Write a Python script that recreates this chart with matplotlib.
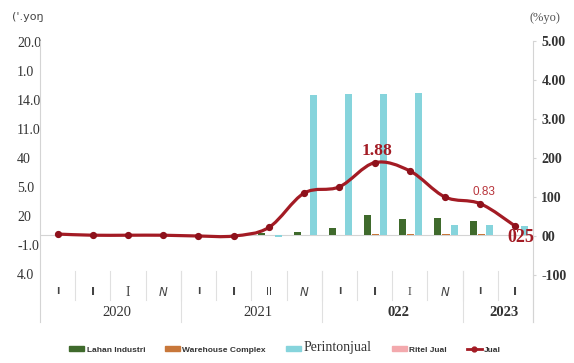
import numpy as np
import matplotlib
matplotlib.use("Agg")
from matplotlib import pyplot as plt
from matplotlib.path import Path
from matplotlib.patches import PathPatch, Patch
from matplotlib.lines import Line2D
import matplotlib.transforms as mtransforms

# quarterly series, 2020 Q1 .. 2023 Q2
quarters = ["I", "I", "I", "N", "I", "I", "II", "N", "I", "I", "I", "N", "I", "I"]
years = ["2020", "2021", "022", "2023"]
year_quarters = [4, 4, 4, 2]

lahan_industri = [0, 0, 0, 0, 0, 0, 0.2, 0.3, 0.7, 2.1, 1.7, 1.8, 1.5, 0]
warehouse = [0, 0, 0, 0, 0, 0, 0, 0, 0, 0.1, 0.15, 0.1, 0.15, 0]
perintonjual = [0, 0, 0, 0, 0, 0, -0.2, 14.5, 14.6, 14.6, 14.7, 1.0, 1.0, 0.95]
ritel_jual = [0] * 14
jual = [0.05, 0.02, 0.02, 0.02, 0.0, 0.0, 0.22, 1.10, 1.26, 1.88, 1.67, 1.00, 0.83, 0.25]

left_ticks = [20, 17, 14, 11, 8, 5, 2, -1, -4]
left_ticklabels = ["20.0", "1.0", "14.0", "11.0", "40", "5.0", "20", "-1.0", "4.0"]
right_ticks = [5, 4, 3, 2, 1, 0, -1]
right_ticklabels = ["5.00", "4.00", "3.00", "200", "100", "00", "-100"]

c_green = "#3f6a2c"
c_orange = "#c8773a"
c_cyan = "#86d4dc"
c_pink = "#f3a9ad"
c_red = "#a31b24"
c_spine = "#d4d4d4"

W, H = 574, 363
fig = plt.figure(figsize=(W / 100, H / 100), dpi=100)
ax = fig.add_axes([40 / W, (H - 322) / H, (533 - 40) / W, (322 - 41) / H])
ax2 = ax.twinx()

x = np.arange(len(quarters))
ax.set_xlim(-0.5, len(quarters) - 0.5)
ax.set_ylim(-9.03, 20.15)
ax2.set_ylim(-2.205, 5.0)

bw = 0.2
ax.bar(x - 0.2, lahan_industri, bw, color=c_green)
ax.bar(x + 0.03, warehouse, bw, color=c_orange)
ax.bar(x + 0.26, perintonjual, bw, color=c_cyan)
ax.bar(x + 0.49, ritel_jual, bw, color=c_pink)
ax.axhline(0, color=c_spine, lw=0.8, zorder=0)

# smoothed line through the quarterly points (cubic Bezier, Catmull-Rom tangents)
pts = np.column_stack([x, jual])
verts = [pts[0]]
codes = [Path.MOVETO]
n = len(pts)
for i in range(n - 1):
    p0, p1, p2, p3 = pts[max(i - 1, 0)], pts[i], pts[i + 1], pts[min(i + 2, n - 1)]
    verts += [p1 + (p2 - p0) / 6, p2 - (p3 - p1) / 6, p2]
    codes += [Path.CURVE4] * 3
ax2.add_patch(PathPatch(Path(verts, codes), fill=False, edgecolor=c_red, lw=2.3,
                        capstyle="round", joinstyle="round"))
ax2.plot(x, jual, "o", color="#8e111b", ms=4.2, ls="none")

ax2.annotate(f"{jual[9]:.2f}", (x[9], jual[9]), xytext=(2, 8.5), textcoords="offset points",
             ha="center", va="center", color=c_red, fontsize=12.5, fontweight="bold",
             family="Liberation Serif")
ax2.annotate(f"{jual[12]:.2f}", (x[12], jual[12]), xytext=(3, 8.5), textcoords="offset points",
             ha="center", va="center", color="#b8343b", fontsize=8.5,
             family="Liberation Sans")
ax2.annotate(f"{jual[13]:.2f}".replace(".", "").lstrip("0").rjust(3, "0"), (x[13], jual[13]),
             xytext=(3.6, -8), textcoords="offset points", ha="center", va="center",
             color=c_red, fontsize=13, fontweight="bold", family="Liberation Serif")

# spines and ticks
for a in (ax, ax2):
    a.spines["top"].set_visible(False)
    a.spines["bottom"].set_visible(False)
    a.spines["left"].set_color(c_spine)
    a.spines["right"].set_color(c_spine)
    a.set_xticks([])
ax2.spines["left"].set_visible(False)
ax.spines["right"].set_visible(False)

ax.set_yticks(left_ticks)
ax.set_yticklabels(left_ticklabels, family="Liberation Serif", fontsize=10, color="#333333",
                   ha="left")
ax.tick_params(axis="y", length=0, pad=16.5)
ax2.set_yticks(right_ticks)
ax2.set_yticklabels(right_ticklabels, family="Liberation Serif", fontsize=10,
                    fontweight="bold", color="#333333")
ax2.tick_params(axis="y", length=2, color=c_spine, pad=4)

# quarter and year labels under the plot
trans = mtransforms.blended_transform_factory(ax.transData, ax.transAxes)
q_style = [
    dict(family="DejaVu Sans", fontweight="bold", fontsize=6.5),
    dict(family="DejaVu Sans", fontweight="bold", fontsize=8),
    dict(family="Liberation Serif", fontsize=10),
    dict(family="DejaVu Sans", style="italic", fontsize=8.5),
]
for i, q in enumerate(quarters):
    st = dict(q_style[i % 4])
    if q == "II":
        st = dict(family="DejaVu Sans", fontsize=7.5)
    if i == 10:
        st = dict(family="Liberation Serif", fontsize=8.5)
    ax.text(x[i], (322 - 292) / 281, q, transform=trans, ha="center", va="center",
            color="#444444", **st)

for i in range(1, len(quarters)):
    ax.plot([i - 0.5, i - 0.5], [(322 - 300) / 281, (322 - 271) / 281], transform=trans,
            color="#e0e0e0", lw=0.8, clip_on=False)

start = 0
for k, (yr, nq) in enumerate(zip(years, year_quarters)):
    cx = start + (nq - 1) / 2 + 0.18
    bold = k >= 2
    ax.text(cx, (322 - 313) / 281, yr, transform=trans, ha="center", va="center",
            family="Liberation Serif", fontsize=10.5, color="#333333",
            fontweight="bold" if bold else "normal")
    end = start + nq
    ax.plot([end - 0.5, end - 0.5], [0, (322 - 271) / 281], transform=trans,
            color="#e0e0e0", lw=0.8, clip_on=False)
    start = end

fig.text(12 / W, 1 - 17 / H, "('.yoŋ", ha="left", va="center", fontsize=8,
         color="#444444", family="DejaVu Sans")
fig.text(545 / W, 1 - 18 / H, "(%yo)", ha="center", va="center", fontsize=9,
         color="#555555", family="Liberation Serif")

handles = [
    Patch(color=c_green), Patch(color=c_orange), Patch(color=c_cyan), Patch(color=c_pink),
    Line2D([], [], color=c_red, lw=2, marker="o", ms=3.5),
]
labels = ["Lahan Industri", "Warehouse Complex", "Perintonjual", "Ritel Jual", "Jual"]
leg = fig.legend(handles, labels, loc="center", bbox_to_anchor=(285 / W, 1 - 348 / H),
                 ncol=5, frameon=False, fontsize=6, handlelength=1.8, handleheight=0.5,
                 handletextpad=0.3, columnspacing=2.4)
for t in leg.get_texts():
    if t.get_text() == "Perintonjual":
        t.set_family("Liberation Serif")
        t.set_fontsize(10)
    else:
        t.set_family("Liberation Sans")
        t.set_fontweight("bold")
    t.set_color("#333333")

fig.savefig("out.png", dpi=100, facecolor="white")
